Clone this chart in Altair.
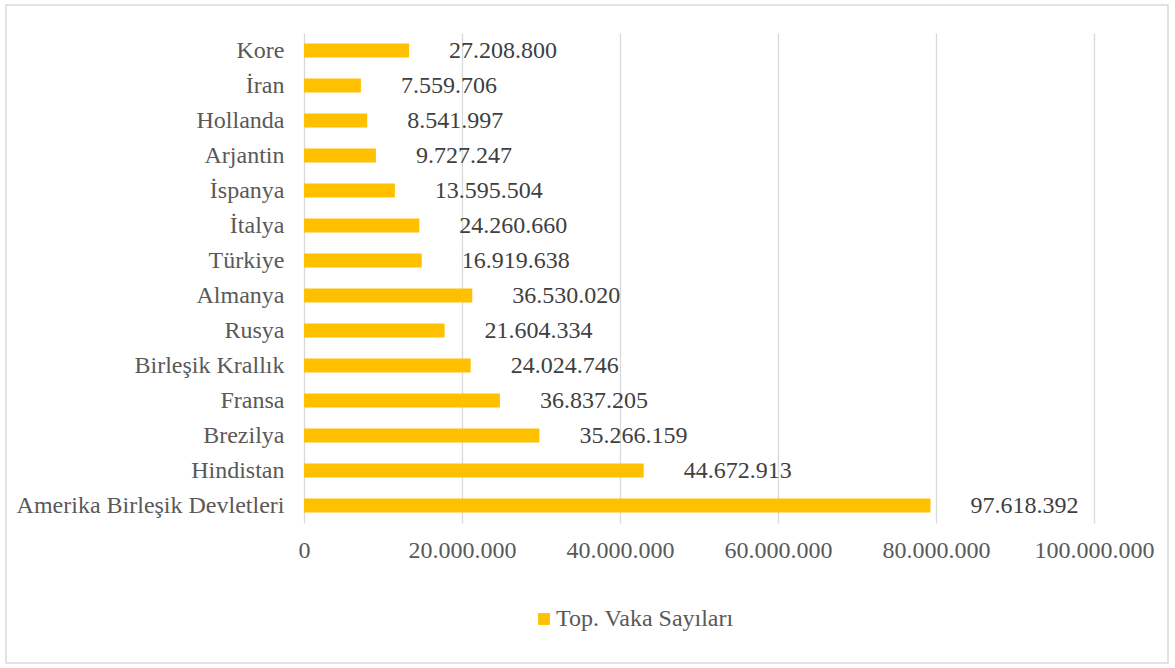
import altair as alt
import pandas as pd

countries = ["Kore", "İran", "Hollanda", "Arjantin", "İspanya", "İtalya", "Türkiye",
             "Almanya", "Rusya", "Birleşik Krallık", "Fransa", "Brezilya", "Hindistan",
             "Amerika Birleşik Devletleri"]
bar_values = [13.3e6, 7.2e6, 8.0e6, 9.1e6, 11.5e6, 14.6e6, 14.9e6,
              21.3e6, 17.8e6, 21.1e6, 24.8e6, 29.8e6, 43.0e6, 79.3e6]
label_texts = ["27.208.800", "7.559.706", "8.541.997", "9.727.247", "13.595.504",
               "24.260.660", "16.919.638", "36.530.020", "21.604.334", "24.024.746",
               "36.837.205", "35.266.159", "44.672.913", "97.618.392"]
series_name = "Top. Vaka Sayıları"

df = pd.DataFrame({"country": countries, "value": bar_values,
                   "label": label_texts, "series": [series_name] * len(countries)})

FONT = "Liberation Serif"
W, H = 790, 490

x = alt.X("value:Q", scale=alt.Scale(domain=[0, 100_000_000], nice=False),
          axis=alt.Axis(values=[0, 20e6, 40e6, 60e6, 80e6, 100e6], title=None,
                        labelExpr="replace(replace(format(datum.value, ','), ',', '.'), ',', '.')",
                        labelFont=FONT, labelFontSize=24, labelColor="#595959",
                        labelPadding=15, labelFlush=False, labelOverlap=False,
                        ticks=False, domain=False,
                        grid=True, gridColor="#d9d9d9", gridWidth=1.3))
y = alt.Y("country:N", sort=None,
          scale=alt.Scale(paddingInner=0.6, paddingOuter=0.3),
          axis=alt.Axis(title=None, labelFont=FONT, labelFontSize=24, labelColor="#595959",
                        labelPadding=20, labelLimit=0, ticks=False, domain=False))

bars = alt.Chart(df).mark_bar(color="#FFC000").encode(
    x=x, y=y,
    color=alt.Color("series:N", scale=alt.Scale(range=["#FFC000"]),
                    legend=alt.Legend(title=None, orient="none", legendX=228, legendY=574,
                                      symbolType="square", symbolSize=140,
                                      symbolStrokeWidth=0, labelLimit=0,
                                      labelFont=FONT, labelFontSize=24, labelColor="#595959",
                                      labelOffset=0))
)

texts = alt.Chart(df).mark_text(align="left", baseline="middle", dx=40, dy=0,
                                font=FONT, fontSize=24, color="#404040").encode(
    x="value:Q", y=alt.Y("country:N", sort=None), text="label:N")

border = alt.Chart(pd.DataFrame({"a": [0]})).mark_rect(
    fill=None, stroke="#d9d9d9", strokeWidth=1.5).encode(
    x=alt.value(-298), x2=alt.value(W + 74), y=alt.value(-28), y2=alt.value(H + 140))

chart = alt.layer(border, bars, texts).properties(
    width=W, height=H,
    autosize=alt.AutoSizeParams(type="none"),
    padding={"left": 304, "top": 33, "right": 81, "bottom": 145},
    background="white",
).configure_view(stroke=None)

chart.save("out.html", embed_options={"renderer": "svg", "actions": False})
